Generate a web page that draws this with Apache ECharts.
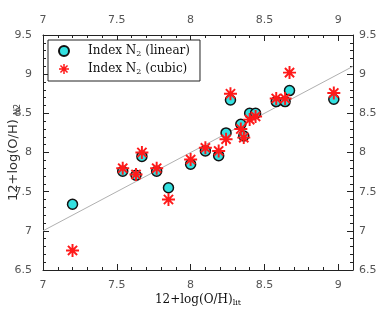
<!DOCTYPE html>
<html>
<head>
<meta charset="utf-8">
<script src="https://cdn.jsdelivr.net/npm/echarts@6/dist/echarts.min.js"></script>
<style>
html, body { margin: 0; padding: 0; background: #fff; }
#chart { width: 383px; height: 310px; }
</style>
</head>
<body>
<div id="chart"></div>
<script>
// 12+log(O/H) from literature (x) vs. N2-index estimates (y)
const xLit = [7.20, 7.54, 7.63, 7.67, 7.77, 7.85, 8.00, 8.10, 8.19, 8.24, 8.27, 8.34, 8.36, 8.40, 8.44, 8.58, 8.64, 8.67, 8.97];
const yLinear = [7.34, 7.76, 7.71, 7.95, 7.76, 7.55, 7.85, 8.02, 7.96, 8.25, 8.67, 8.36, 8.21, 8.50, 8.50, 8.65, 8.65, 8.79, 8.68];
const yCubic = [6.75, 7.80, 7.72, 8.00, 7.80, 7.40, 7.91, 8.06, 8.02, 8.17, 8.75, 8.30, 8.19, 8.42, 8.46, 8.69, 8.69, 9.02, 8.76];
const oneToOne = [7, 9.1];
const seriesNames = ['Index N2 (linear)', 'Index N2 (cubic)'];

// 8-armed asterisk used as the "cubic" marker
function asteriskPath() {
  const w = 0.15, rIn = w / Math.sin(Math.PI / 8);
  const pts = [];
  for (let k = 0; k < 8; k++) {
    const t = k * Math.PI / 4;
    const ux = Math.cos(t), uy = Math.sin(t), nx = -uy, ny = ux;
    pts.push([ux - w * nx, uy - w * ny]);
    pts.push([ux + w * nx, uy + w * ny]);
    const ti = t + Math.PI / 8;
    pts.push([rIn * Math.cos(ti), rIn * Math.sin(ti)]);
  }
  return 'path://' + pts.map((p, i) => (i ? 'L' : 'M') + (50 + p[0] * 50).toFixed(2) + ' ' + (50 + p[1] * 50).toFixed(2)).join(' ') + ' Z';
}

const frameColor = '#222';
const labelStyle = { color: '#555', fontFamily: 'DejaVu Sans', fontSize: 11 };
const xNameStyle = {
  color: '#111', fontFamily: 'DejaVu Serif', fontSize: 12,
  rich: { sub: { fontFamily: 'DejaVu Serif', fontSize: 8, padding: [7, 0, 0, 0] } }
};
const yNameStyle = {
  color: '#333', fontFamily: 'DejaVu Sans', fontSize: 13,
  rich: { sub: { fontFamily: 'DejaVu Sans', fontSize: 8, padding: [8, 0, 0, 0] } }
};

function xAxis(pos, major) {
  return {
    type: 'value', position: pos, min: 7, max: 9.1, interval: major ? 0.5 : 0.1,
    axisLine: { show: major, onZero: false, lineStyle: { color: frameColor, width: 1 } },
    axisTick: { show: true, inside: true, length: major ? 6 : 3, lineStyle: { color: frameColor } },
    axisLabel: Object.assign({ show: major, showMaxLabel: false, showMinLabel: true, margin: pos === 'bottom' ? 10 : 9 }, labelStyle),
    splitLine: { show: false },
    name: major && pos === 'bottom' ? '12+log(O/H){sub|lit}' : '',
    nameLocation: 'middle', nameGap: 22, nameMoveOverlap: false, nameTextStyle: xNameStyle
  };
}

function yAxis(pos, major) {
  return {
    type: 'value', position: pos, min: 6.5, max: 9.5, interval: major ? 0.5 : 0.1,
    axisLine: { show: major, onZero: false, lineStyle: { color: frameColor, width: 1 } },
    axisTick: { show: true, inside: true, length: major ? 6 : 3, lineStyle: { color: frameColor } },
    axisLabel: Object.assign({ show: major, margin: pos === 'left' ? 11 : 6 }, labelStyle),
    splitLine: { show: false },
    name: major && pos === 'left' ? '12+log(O/H) {sub|N2}' : '',
    nameLocation: 'middle', nameGap: 21, nameMoveOverlap: false, nameTextStyle: yNameStyle
  };
}

const chart = echarts.init(document.getElementById('chart'));

chart.setOption({
  animation: false,
  backgroundColor: '#fff',
  grid: { left: 43, right: 30, top: 35, bottom: 40, containLabel: false, outerBoundsMode: 'none' },
  xAxis: [xAxis('bottom', true), xAxis('bottom', false), xAxis('top', true), xAxis('top', false)],
  yAxis: [yAxis('left', true), yAxis('left', false), yAxis('right', true), yAxis('right', false)],
  legend: {
    data: seriesNames,
    orient: 'vertical',
    left: 48, top: 40,
    padding: [5, 10, 5, 10],
    itemWidth: 38, itemHeight: 10, itemGap: 5,
    backgroundColor: '#fff',
    borderColor: '#222', borderWidth: 1,
    formatter: name => name.replace('N2', 'N{sub|2}'),
    textStyle: {
      color: '#111', fontFamily: 'DejaVu Serif', fontSize: 12,
      rich: { sub: { fontFamily: 'DejaVu Serif', fontSize: 8, padding: [6, 0, 0, 0] } }
    }
  },
  series: [
    {
      type: 'line',
      data: oneToOne.map(v => [v, v]),
      showSymbol: false,
      silent: true,
      z: 1,
      lineStyle: { color: '#b0b0b0', width: 1 }
    },
    {
      name: seriesNames[0],
      type: 'scatter',
      data: xLit.map((x, i) => [x, yLinear[i]]),
      symbol: 'circle',
      symbolSize: 10,
      z: 2,
      itemStyle: { color: '#33e0e0', borderColor: '#111', borderWidth: 1.5, opacity: 1 }
    },
    {
      name: seriesNames[1],
      type: 'scatter',
      data: xLit.map((x, i) => [x, yCubic[i]]),
      symbol: asteriskPath(),
      symbolSize: 13,
      symbolKeepAspect: true,
      z: 3,
      itemStyle: { color: '#ff1a1a', opacity: 1 }
    }
  ]
});
</script>
</body>
</html>
